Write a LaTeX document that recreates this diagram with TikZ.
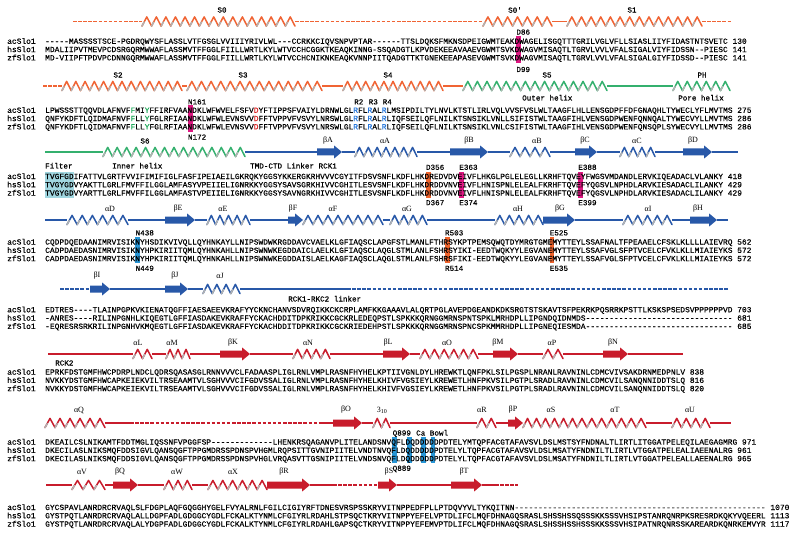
\documentclass[tikz,border=0pt]{standalone}
\usepackage{fontspec}
\usepackage{xcolor}
\setmonofont{Liberation Mono}[FakeBold=0.35]
\newfontfamily\grkfont{Liberation Serif}
\usetikzlibrary{arrows.meta,calc}

\definecolor{tmdorange}{RGB}{240,100,52}
\definecolor{poregreen}{RGB}{52,176,110}
\definecolor{rckblue}{RGB}{40,88,168}
\definecolor{rckred}{RGB}{200,28,44}
\definecolor{backgray}{RGB}{178,178,178}
\definecolor{hlmag}{RGB}{222,24,130}
\definecolor{hlorange}{RGB}{240,100,44}
\definecolor{hlcyan}{RGB}{160,214,224}
\definecolor{hlblue}{RGB}{40,150,214}
\definecolor{resgreen}{RGB}{30,170,90}
\definecolor{resred}{RGB}{220,40,40}
\definecolor{resblue}{RGB}{40,120,220}

\newcommand{\hper}{9.5}
\newcommand{\hamp}{4.6}
\newcommand{\G}[1]{\textcolor{resgreen}{#1}}
\newcommand{\R}[1]{\textcolor{resred}{#1}}
\newcommand{\B}[1]{\textcolor{resblue}{#1}}
% column band over the three rows of one block
\newcommand{\hlcol}[3]{\fill[#1] ({45+(#2-1)*4.76},{#3-7.4}) rectangle ({45+#2*4.76},{#3+18.8});}

\tikzset{
  seq/.style={font=\ttfamily\fontsize{7.9}{8}\selectfont, inner sep=0pt, anchor=base west},
  reslbl/.style={font=\ttfamily\fontsize{7.6}{8}\selectfont, inner sep=0pt, anchor=base west},
  sslbl/.style={font=\ttfamily\fontsize{7.6}{8}\selectfont, inner sep=0pt},
  grklbl/.style={font=\grkfont\fontsize{8}{8}\selectfont, inner sep=0pt},
  trk/.style={line width=1.3pt},
  dsh/.style={line width=1.4pt, dash pattern=on 3.5pt off 1.6pt},
  helixback/.style={backgray, line width=1.5pt, line cap=round},
  pics/helix/.style={
    code={
      \pgfmathtruncatemacro\nturn{max(1,round((#1)/\hper))}
      \pgfmathsetmacro\tw{(#1)/\nturn}
      \foreach \i in {1,...,\nturn}{
        \draw[pic actions, line width=1.5pt, line join=round, line cap=round]
          ({(\i-1)*\tw},\hamp) -- ({(\i-0.5)*\tw},-\hamp) -- ({\i*\tw},\hamp);
        \draw[helixback] ({(\i-1)*\tw},\hamp) -- ({(\i-0.78)*\tw},{0.15*\hamp});
      }
    }
  },
  pics/strand/.style={
    code={
      \fill[pic actions] (0,-3.5) -- ({(#1)-8},-3.5) -- ({(#1)-8},-6.6) -- ({#1},0)
        -- ({(#1)-8},6.6) -- ({(#1)-8},3.5) -- (0,3.5) -- cycle;
    }
  }
}

\begin{document}
\begin{tikzpicture}[x=1pt,y=-1pt]
\useasboundingbox (0,0) rectangle (800,548);
\fill[white] (0,0) rectangle (800,548);

% highlighted columns
\hlcol{hlmag}{100}{43.8}
\hlcol{hlmag}{31}{112.8}
\foreach \c in {1,...,6} {\hlcol{hlcyan}{\c}{179}}
\hlcol{hlorange}{81}{179}
\hlcol{hlmag}{88}{179}
\hlcol{hlmag}{113}{179}
\hlcol{hlblue}{20}{244.6}
\hlcol{hlorange}{85}{244.6}
\hlcol{hlorange}{107}{244.6}
\foreach \c in {74,77,80,82} {\hlcol{hlblue}{\c}{444.6}}

% ---------------- block 1
\foreach \a/\b in {73/142,295/483,702/732} \draw[dsh,tmdorange] (\a,21.5) -- (\b,21.5);
\draw[trk,tmdorange] (552,21.5) -- (567,21.5);
\foreach \a/\b in {142/295,483/552,567/702} \pic[draw=tmdorange] at (\a,21.5) {helix={\b-\a}};
\node[sslbl] (s0) at (222,10) {S0};
\node[sslbl] (s0p) at (515,10) {S0'};
\node[sslbl] (s1) at (632,10) {S1};

% ---------------- block 2
\draw[dsh,tmdorange] (43,86) -- (62,86);
\foreach \a/\b in {182/187,322/343,443/463} \draw[trk,tmdorange] (\a,86) -- (\b,86);
\foreach \a/\b in {62/182,187/322,343/443} \pic[draw=tmdorange] at (\a,86) {helix={\b-\a}};
\draw[trk,poregreen] (607,86) -- (673,86);
\foreach \a/\b in {463/607,673/730} \pic[draw=poregreen] at (\a,86) {helix={\b-\a}};
\node[sslbl] (s2) at (118,75) {S2};
\node[sslbl] (s3) at (243,75) {S3};
\node[sslbl] (s4) at (388,75) {S4};
\node[sslbl] (s5) at (547,75) {S5};
\node[sslbl] (ph) at (702,75) {PH};
\node[reslbl] (outer) at (522,100.5) {Outer helix};
\node[reslbl] (pore) at (678,100.5) {Pore helix};

% ---------------- block 3
\draw[trk,poregreen] (45,152) -- (103,152);
\pic[draw=poregreen] at (103,152) {helix=142};
\foreach \a/\b in {245/317,342/355,417/450,488/510,550/575,597/620,655/683,712/738}
  \draw[trk,rckblue] (\a,152) -- (\b,152);
\foreach \a/\b in {355/417,510/550,620/655} \pic[draw=rckblue] at (\a,152) {helix={\b-\a}};
\foreach \a/\b in {317/342,450/488,575/597,683/712} \pic[fill=rckblue] at (\a,152) {strand={\b-\a}};
\node[sslbl] (s6) at (145,141) {S6};
\foreach \x/\lb [count=\k] in {328/βA,385/αA,469/βB,537/αB,585/βC,637/αC,693/βD}
  \node[grklbl] (ss3-\k) at (\x,141) {\lb};
\node[reslbl] (filter) at (45,168.5) {Filter};
\node[reslbl] (inner) at (112,168.5) {Inner helix};
\node[reslbl] (linker) at (250,168.5) {TMD-CTD Linker RCK1};

% ---------------- block 4
\foreach \a/\b in {45/67,128/165,195/207,250/288,383/390,427/495,575/623,672/690,717/728}
  \draw[trk,rckblue] (\a,220) -- (\b,220);
\foreach \a/\b in {67/128,207/250,303/383,390/427,495/543,623/672} \pic[draw=rckblue] at (\a,220) {helix={\b-\a}};
\foreach \a/\b in {165/195,288/303,543/575,690/717} \pic[fill=rckblue] at (\a,220) {strand={\b-\a}};
\foreach \x/\lb [count=\k] in {110/αD,178/βE,223/αE,293/βF,333/αF,407/αG,518/αH,560/βG,648/αI,698/βH}
  \node[grklbl] (ss4-\k) at (\x,209) {\lb};

% ---------------- block 5
\foreach \a/\b in {60/90,347/728} \draw[dsh,rckblue] (\a,289) -- (\b,289);
\foreach \a/\b in {110/165,188/203,240/347} \draw[trk,rckblue] (\a,289) -- (\b,289);
\foreach \a/\b in {90/110,165/188} \pic[fill=rckblue] at (\a,289) {strand={\b-\a}};
\pic[draw=rckblue] at (203,289) {helix=37};
\foreach \x/\lb [count=\k] in {97/βI,175/βJ,220/αJ}
  \node[grklbl] (ss5-\k) at (\x,276) {\lb};
\node[reslbl] (rcklink) at (288,301.5) {RCK1-RKC2 linker};

% ---------------- block 6
\foreach \a/\b in {48/133,152/166,190/220,250/293,330/383,410/420,478/493,518/543,563/603,628/683}
  \draw[trk,rckred] (\a,354) -- (\b,354);
\foreach \a/\b in {133/152,166/190,293/330,420/478,543/563} \pic[draw=rckred] at (\a,354) {helix={\b-\a}};
\foreach \a/\b in {220/250,383/410,493/518,603/628} \pic[fill=rckred] at (\a,354) {strand={\b-\a}};
\foreach \x/\lb [count=\k] in {138/αL,172/αM,233/βK,308/αN,388/βL,447/αO,498/βM,552/αP,613/βN}
  \node[grklbl] (ss6-\k) at (\x,343) {\lb};
\node[reslbl] (rck2) at (55,365.5) {RCK2};

% ---------------- block 7
\foreach \a/\b in {105/130,320/333,362/373,390/477,496/508,646/672,710/731}
  \draw[trk,rckred] (\a,423) -- (\b,423);
\draw[dsh,rckred] (130,423) -- (320,423);
\foreach \a/\b in {45/105,373/390,477/496,523/577,577/646,672/710} \pic[draw=rckred] at (\a,423) {helix={\b-\a}};
\foreach \a/\b in {333/362,508/523} \pic[fill=rckred] at (\a,423) {strand={\b-\a}};
\foreach \x/\lb [count=\k] in {79/αQ,346/βO,513/βP,482/αR,551/αS,615/αT,690/αU}
  \node[grklbl] (ss7-\k) at (\x,410) {\lb};
\node[grklbl] (ss7-310) at (382,410) {3\textsubscript{10}};
\node[reslbl] (cabowl) at (416,435.5) {Ca Bowl};

% ---------------- block 8
\foreach \a/\b in {46/72,105/113,138/164,192/208,310/333,397/451,482/495}
  \draw[trk,rckred] (\a,485) -- (\b,485);
\foreach \a/\b in {333/377,495/518} \draw[dsh,rckred] (\a,485) -- (\b,485);
\foreach \a/\b in {72/105,164/192,208/267} \pic[draw=rckred] at (\a,485) {helix={\b-\a}};
\foreach \a/\b in {113/138,267/310,378/397,451/482} \pic[fill=rckred] at (\a,485) {strand={\b-\a}};
\foreach \x/\lb [count=\k] in {82/αV,120/βQ,177/αW,233/αX,284/βR,389/βS,464/βT}
  \node[grklbl] (ss8-\k) at (\x,472) {\lb};

% residue labels
\node[reslbl] (d86) at (516.2,34.6) {D86};
\node[reslbl] (d99) at (516.2,72) {D99};
\node[reslbl] (n161) at (187.8,104.4) {N161};
\node[reslbl] (n172) at (187.8,139.6) {N172};
\node[reslbl] (rr2) at (354,104.4) {R2};
\node[reslbl] (rr3) at (368.5,104.4) {R3};
\node[reslbl] (rr4) at (382.5,104.4) {R4};
\foreach \c/\lb [count=\k] in {81/D356,88/E363,113/E388} \node[reslbl] (up3-\k) at ({45+(\c-1)*4.76},169.8) {\lb};
\foreach \c/\lb [count=\k] in {81/D367,88/E374,113/E399} \node[reslbl] (dn3-\k) at ({45+(\c-1)*4.76},205.2) {\lb};
\foreach \c/\lb [count=\k] in {20/N438,85/R503,107/E525} \node[reslbl] (up4-\k) at ({45+(\c-1)*4.76},235.4) {\lb};
\foreach \c/\lb [count=\k] in {20/N449,85/R514,107/E535} \node[reslbl] (dn4-\k) at ({45+(\c-1)*4.76},270.8) {\lb};
\node[reslbl] (q899) at ({45+73*4.76},435.5) {Q899};
\node[reslbl] (q889) at ({45+73*4.76},470.8) {Q889};

% species names
\foreach \b [count=\r] in {43.8,112.8,179,244.6,312.3,374.6,444.6,510}
  \foreach \nm [count=\k] in {acSlo1,hsSlo1,zfSlo1}
    \node[seq] (\nm-\r) at (7,{\b+(\k-1)*8.3}) {\nm};

% sequences
\node[seq] (ac1) at (45,43.8) {-----MASSSSTSCE-PGDRQWYSFLASSLVTFGSGLVVIIIYRIVLWL---CCRKKCIQVSNPVPTAR------TTSLDQKSFMKNSDPEIGWMTEAKDWAGELISGQTTTGRILVGLVFLLSIASLIIYFIDASTNTSVETC 130};
\node[seq] (hs1) at (45,52.1) {MDALIIPVTMEVPCDSRGQRMWWAFLASSMVTFFGGLFIILLWRTLKYLWTVCCHCGGKTKEAQKINNG-SSQADGTLKPVDEKEEAVAAEVGWMTSVKDWAGVMISAQTLTGRVLVVLVFALSIGALVIYFIDSSN--PIESC 141};
\node[seq] (zf1) at (45,60.4) {MD-VIIPFTPDVPCDNNGQRMWWAFLASSMVTFFGGLFIILLWRTLKYLWTVCCHCNIKNKEAQKVNNPIITQADGTTKTGNEKEEAPASEVGWMTSVKDWAGVMISAQTLTGRVLVVLVFALSIGALGIYFIDSSD--PIESC 141};

\node[seq] (ac2) at (45,112.8) {LPWSSSTTQQVDLAFNVF\G{F}MI\G{Y}FFIRFVAANDKLWFWVELFSFV\R{D}YFTIPPSFVAIYLDRNWLGL\B{R}FL\B{R}AL\B{R}LMSIPDILTYLNVLKTSTLIRLVQLVVSFVSLWLTAAGFLHLLENSGDPFFDFGNAQHLTYWECLYFLMVTMS 275};
\node[seq] (hs2) at (45,121.1) {QNFYKDFTLQIDMAFNVF\G{F}LL\G{Y}FGLRFIAANDKLWFWLEVNSVV\R{D}FFTVPPVFVSVYLNRSWLGL\B{R}FL\B{R}AL\B{R}LIQFSEILQFLNILKTSNSIKLVNLLSIFISTWLTAAGFIHLVENSGDPWENFQNNQALTYWECVYLLMVTMS 286};
\node[seq] (zf2) at (45,129.4) {QNFYKDFTLQIDMAFNVF\G{F}LL\G{Y}FGLRFIAANDKLWFWLEVNSVV\R{D}FFTVPPVFVSVYLNRSWLGL\B{R}FL\B{R}AL\B{R}LIQFSEILQFLNILKTSNSIKLVNLCSIFISTWLTAAGFIHLVENSGDPWENFQNSQPLSYWECVYLLMVTMS 286};

\node[seq] (ac3) at (45,179) {TVGFGDIFATTVLGRTFVVIFIMIFIGLFASFIPEIAEILGKRQKYGGSYKKERGKRHVVVCGYITFDSVSNFLKDFLHKDREDVDVEIVFLHKGLPGLELEGLLKRHFTQVEYFWGSVMDANDLERVKIQEADACLVLANKY 418};
\node[seq] (hs3) at (45,187.3) {TVGYGDVYAKTTLGRLFMVFFILGGLAMFASYVPEIIELIGNRKKYGGSYSAVSGRKHIVVCGHITLESVSNFLKDFLHKDRDDVNVEIVFLHNISPNLELEALFKRHFTQVEFYQGSVLNPHDLARVKIESADACLILANKY 429};
\node[seq] (zf3) at (45,195.6) {TVGYGDVYARTTLGRLFMVFFILGGLAMFASTVPEIIELIGNRKKYGGSYSAVNGRKHIVVCGHITLESVSNFLKDFLHKDRDDVNVEIVFLHNISPNLELEALFKRHFTQVEFYQGSVLNPHDLARVKIESADACLILANKY 429};

\node[seq] (ac4) at (45,244.6) {CQDPDQEDAANIMRVISIKNYHSDIKVIVQLLQYHNKAYLLNIPSWDWKRGDDAVCVAELKLGFIAQSCLAPGFSTLMANLFTHRSYKPTPEMSQWQTDYMRGTGMEMYTTEYLSSAFNALTFPEAAELCFSKLKLLLLAIEVRQ 562};
\node[seq] (hs4) at (45,252.9) {CADPDAEDASNIMRVISIKNYHPKIRIITQMLQYHNKAHLLNIPSWNWKEGDDAICLAELKLGFIAQSCLAQGLSTMLANLFSHRSYIKI-EEDTWQKYYLEGVANEMYTTEYLSSAFVGLSFPTVCELCFVKLKLLMIAIEYKS 572};
\node[seq] (zf4) at (45,261.2) {CADPDAEDASNIMRVISIKNYHPKIRIITQMLQYHNKAHLLNIPSWNWKEGDDAISLAELKAGFIAQSCLAQGLSTMLANLFSHRSFIKI-EEDTWQKYYLEGVANEMYTTEYLSSAFVGLSFPTVCELCFVKLKLLMIAIEYKS 572};

\node[seq] (ac5) at (45,312.3) {EDTRES----TLAINPGPKVKIENATQGFFIAESAEEVKRAFYYCKNCHANVSDVRQIKKCKCRPLAMFKKGAAAVLALQRTPGLAVEPDGEANDKDKSRGTSTSKAVTSFPEKRKPQSRRKPSTTLKSKSPSEDSVPPPPPPVD 703};
\node[seq] (hs5) at (45,320.6) {-ANRES----RILINPGNHLKIQEGTLGFFIASDAKEVKRAFFYCKACHDDITDPKRIKKCGCKRLEDEQPSTLSPKKKQRNGGMRNSPNTSPKLMRHDPLLIPGNDQIDNMDS------------------------------- 681};
\node[seq] (zf5) at (45,328.9) {-EQRESRSRKRILINPGNHVKMQEGTLGFFIASDAKEVKRAFFYCKACHDDITDPKRIKKCGCKRIEDEHPSTLSPKKKQRNGGMRNSPNCSPKMMRHDPLLIPGNEQIESMDA------------------------------- 685};

\node[seq] (ac6) at (45,374.6) {EPRKFDSTGMFHWCPDRPLNDCLQDRSQASASGLRNNVVVCLFADAASPLIGLRNLVMPLRASNFHYHELKPTIIVGNLDYLHREWKTLQNFPKLSILPGSPLNRANLRAVNINLCDMCVIVSAKDRNMEDPNLV 838};
\node[seq] (hs6) at (45,382.9) {NVKKYDSTGMFHWCAPKEIEKVILTRSEAAMTVLSGHVVVCIFGDVSSALIGLRNLVMPLRASNFHYHELKHIVFVGSIEYLKREWETLHNFPKVSILPGTPLSRADLRAVNINLCDMCVILSANQNNIDDTSLQ 816};
\node[seq] (zf6) at (45,391.2) {NVKKYDSTGMFHWCAPKEIEKVILTRSEAAMTVLSGHVVVCIFGDVSSALIGLRNLVMPLRASNFHYHELKHIVFVGSIEYLKREWETLHNFPKVSILPGTPLSRADLRAVNINLCDMCVILSANQNNIDDTSLQ 820};

\node[seq] (ac7) at (45,444.6) {DKEAILCSLNIKAMTFDDTMGLIQSSNFVPGGFSP-------------LHENKRSQAGANVPLITELANDSNVQFLDQDDDDDPDTELYMTQPFACGTAFAVSVLDSLMSTSYFNDNALTLIRTLITGGATPELEQILAEGAGMRG 971};
\node[seq] (hs7) at (45,452.9) {DKECILASLNIKSMQFDDSIGVLQANSQGFTPPGMDRSSPDNSPVHGMLRQPSITTGVNIPIITELVNDTNVQFLDQDDDDDPDTELYLTQPFACGTAFAVSVLDSLMSATYFNDNILTLIRTLVTGGATPELEALIAEENALRG 961};
\node[seq] (zf7) at (45,461.2) {DKECILASLNIKSMQFDDSIGVLQANSQGFTPPGMDRSSPDNSPVHGLVRQASVTTGSNIPIITELVNDSNVQFLDQDDDDDPDTELYLTQPFACGTAFAVSVLDSLMSATYFNDNILTLIRTLVTGGATPELEALLAEENALRG 965};

\node[seq] (ac8) at (45,510) {GYCSPAVLANRDRCRVAQLSLFDGPLAQFGQGGHYGELFVYALRNLFGILCIGIYRFTDNESVRSPSSKRYVITNPPEDFPLLPTDQVYVLTYKQITNN----------------------------------------------------- 1070};
\node[seq] (hs8) at (45,518.3) {GYSTPQTLANRDRCRVAQLALLDGPFADLGDGGCYGDLFCKALKTYNMLCFGIYRLRDAHLSTPSQCTKRYVITNPPYEFELVPTDLIFCLMQFDHNAGQSRASLSHSSHSSQSSSKKSSSVHSIPSTANRQNRPKSRESRDKQKYVQEERL 1113};
\node[seq] (zf8) at (45,526.6) {GYSTPQTLANRDRCRVAQLALYDGPFADLGDGGCYGDLFCKALKTYNMLCFGIYRLRDAHLGAPSQCTKRYVITNPPYEFEMVPTDLIFCLMQFDHNAGQSRASLSHSSHSSHSSSKKSSSVHSIPATNRQNRSSKAREARDKQNRKEMVYR 1117};

\end{tikzpicture}
\end{document}
